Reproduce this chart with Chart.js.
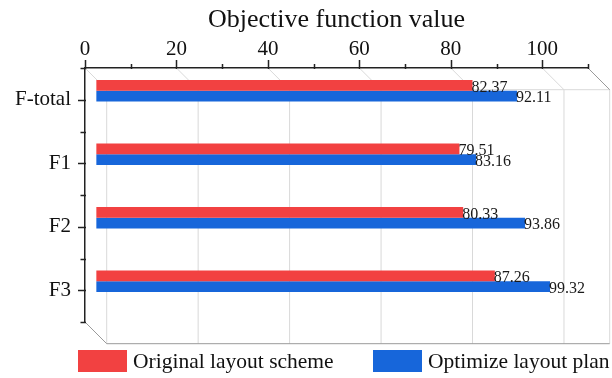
<!DOCTYPE html>
<html>
<head>
<meta charset="utf-8">
<script src="https://cdn.jsdelivr.net/npm/chart.js@4/dist/chart.umd.min.js"></script>
<style>
  html, body { margin: 0; padding: 0; background: #fff; }
  #wrap { width: 612px; height: 378px; }
</style>
</head>
<body>
<div id="wrap"><canvas id="chart" width="612" height="378"></canvas></div>
<script>
// Objective function value per layout, original vs optimized
const categories = ['F-total', 'F1', 'F2', 'F3'];
const originalScheme = [82.37, 79.51, 80.33, 87.26];
const optimizedPlan = [92.11, 83.16, 93.86, 99.32];
const seriesNames = ['Original layout scheme', 'Optimize layout plan'];
const seriesColors = ['#F24141', '#1766DA'];
const xMajorTicks = [0, 20, 40, 60, 80, 100];
const xMinorTicks = [10, 30, 50, 70, 90, 110];
const xMin = 0, xMax = 110;

// pseudo-3D frame depth and the mid-plane shift of the bars
const DEPTH = 21.7;
const BAR_DX = DEPTH / 2;
const BAR_DY = -9;
const SERIF = "'Liberation Serif', 'Times New Roman', serif";

Chart.defaults.font.family = SERIF;
Chart.defaults.color = '#111';

const frame3d = {
  id: 'frame3d',
  beforeDatasetsDraw(chart) {
    const { ctx, chartArea: a, scales } = chart;
    const xs = scales.x;
    ctx.save();
    ctx.lineWidth = 1;
    // back-wall grid lines with their diagonal links to the axis
    ctx.strokeStyle = '#d9d9d9';
    xMajorTicks.forEach(v => {
      const px = xs.getPixelForValue(v);
      ctx.beginPath();
      ctx.moveTo(px, a.top);
      ctx.lineTo(px + DEPTH, a.top + DEPTH);
      ctx.lineTo(px + DEPTH, a.bottom + DEPTH);
      ctx.stroke();
    });
    // back top edge and right wall
    ctx.beginPath();
    ctx.moveTo(a.left + DEPTH, a.top + DEPTH);
    ctx.lineTo(a.right + DEPTH, a.top + DEPTH);
    ctx.lineTo(a.right + DEPTH, a.bottom + DEPTH);
    ctx.stroke();
    // outer frame edges
    ctx.strokeStyle = '#9a9a9a';
    ctx.beginPath();
    ctx.moveTo(a.right, a.top);
    ctx.lineTo(a.right + DEPTH, a.top + DEPTH);
    ctx.moveTo(a.left, a.bottom);
    ctx.lineTo(a.left + DEPTH, a.bottom + DEPTH);
    ctx.lineTo(a.right + DEPTH, a.bottom + DEPTH);
    ctx.stroke();
    ctx.restore();

    // bars sit on the middle plane of the box
    ctx.save();
    ctx.translate(BAR_DX, BAR_DY);
  },
  afterDatasetsDraw(chart) {
    const { ctx } = chart;
    ctx.font = '16px ' + SERIF;
    ctx.fillStyle = '#1a1a1a';
    ctx.textAlign = 'left';
    ctx.textBaseline = 'alphabetic';
    chart.data.datasets.forEach((ds, di) => {
      const meta = chart.getDatasetMeta(di);
      meta.data.forEach((el, i) => {
        const y = el.y + el.height / 2 + 1;
        ctx.fillText(ds.data[i].toFixed(2), el.x - 1, y);
      });
    });
    ctx.restore();
  },
  afterDraw(chart) {
    const { ctx, chartArea: a, scales } = chart;
    const xs = scales.x, ys = scales.y;
    ctx.save();
    ctx.strokeStyle = '#222';
    ctx.lineWidth = 1.5;
    ctx.beginPath();
    // top axis ticks (pointing outward)
    xMajorTicks.forEach(v => {
      const px = Math.round(xs.getPixelForValue(v)) + 0.5;
      ctx.moveTo(px, a.top + 1);
      ctx.lineTo(px, a.top - 8);
    });
    xMinorTicks.forEach(v => {
      const px = Math.round(xs.getPixelForValue(v)) + 0.5;
      ctx.moveTo(px, a.top + 1);
      ctx.lineTo(px, a.top - 4);
    });
    // left axis ticks: major at categories, minor at band edges
    const n = categories.length;
    for (let i = 0; i < n; i++) {
      const py = Math.round(ys.getPixelForValue(i)) + 0.5;
      ctx.moveTo(a.left + 1, py);
      ctx.lineTo(a.left - 7, py);
    }
    for (let i = 0; i <= n; i++) {
      let py;
      if (i === 0) py = a.top;
      else if (i === n) py = a.bottom;
      else py = (ys.getPixelForValue(i - 1) + ys.getPixelForValue(i)) / 2;
      py = Math.round(py) + 0.5;
      ctx.moveTo(a.left + 1, py);
      ctx.lineTo(a.left - 4.5, py);
    }
    ctx.stroke();

    // legend along the bottom
    const items = [{ x: 78 }, { x: 373 }];
    ctx.font = '21.5px ' + SERIF;
    ctx.textBaseline = 'middle';
    ctx.textAlign = 'left';
    chart.data.datasets.forEach((ds, di) => {
      const lx = items[di].x;
      ctx.fillStyle = ds.backgroundColor;
      ctx.fillRect(lx, 350, 49, 22);
      ctx.fillStyle = '#111';
      ctx.fillText(ds.label, lx + 55, 362);
    });
    ctx.restore();
  }
};

new Chart(document.getElementById('chart'), {
  type: 'bar',
  data: {
    labels: categories,
    datasets: [
      { label: seriesNames[0], data: originalScheme, backgroundColor: seriesColors[0] },
      { label: seriesNames[1], data: optimizedPlan, backgroundColor: seriesColors[1] }
    ]
  },
  options: {
    indexAxis: 'y',
    responsive: false,
    animation: false,
    devicePixelRatio: 1,
    layout: { padding: { left: 0, top: 0, right: 24, bottom: 56 } },
    datasets: { bar: { categoryPercentage: 0.335, barPercentage: 1, borderWidth: 0 } },
    plugins: { legend: { display: false }, tooltip: { enabled: false } },
    scales: {
      x: {
        position: 'top',
        min: xMin,
        max: xMax,
        afterBuildTicks(scale) { scale.ticks = xMajorTicks.map(v => ({ value: v })); },
        afterFit(scale) { scale.height = 68; },
        grid: { drawOnChartArea: false, drawTicks: false },
        border: { display: true, color: '#222', width: 1.5 },
        ticks: { padding: 6, font: { size: 21 }, color: '#111', maxRotation: 0 },
        title: { display: true, text: 'Objective function value', font: { size: 26 }, color: '#111', padding: { top: 5, bottom: 0 } }
      },
      y: {
        afterFit(scale) { scale.width = 85; },
        grid: { drawOnChartArea: false, drawTicks: false },
        border: { display: true, color: '#222', width: 1.5 },
        ticks: { padding: 14, font: { size: 21 }, color: '#111' }
      }
    }
  },
  plugins: [frame3d]
});
</script>
</body>
</html>
